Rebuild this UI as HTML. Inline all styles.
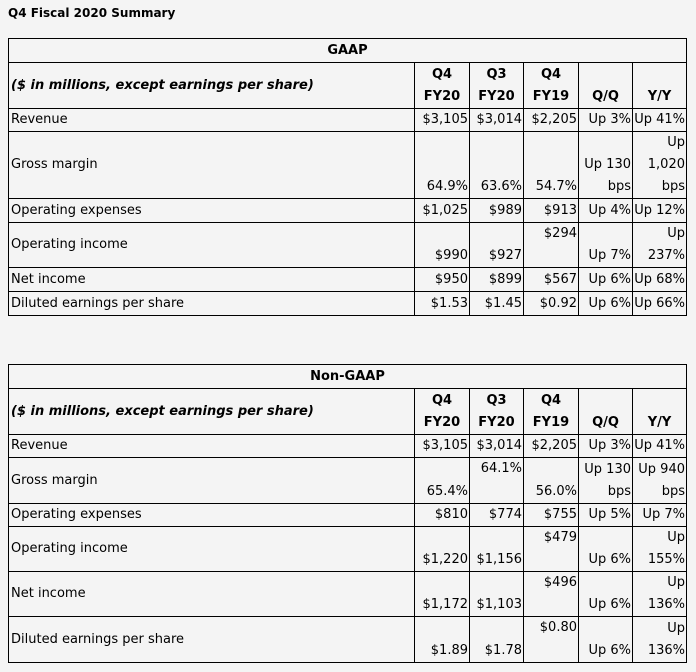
<!DOCTYPE html>
<html><head><style>
body{margin:0;background:#f4f4f4;font-family:"DejaVu Sans","Liberation Sans",sans-serif;color:#000;width:696px;height:672px;overflow:hidden;position:relative}
.title{position:absolute;left:8px;top:6px;font-size:12px;font-weight:bold}
table{position:absolute;left:8px;border-collapse:collapse;table-layout:fixed;font-size:13px;line-height:22px}
td{border:1px solid #000;padding:0 1px;vertical-align:bottom;text-align:right;white-space:nowrap;overflow:hidden}
td.l{text-align:left;vertical-align:middle;padding-left:2px}
td.t{vertical-align:top}
.h td{font-weight:bold;text-align:center}
.sh td{font-weight:bold;text-align:center}
.sh td.l{font-style:italic;text-align:left}
</style></head><body>
<div class="title">Q4 Fiscal 2020 Summary</div>

<table style="top:38px">
<colgroup><col style="width:406px"><col style="width:55px"><col style="width:54px"><col style="width:55px"><col style="width:54px"><col style="width:54px"></colgroup>
<tr class="h" style="height:24px"><td colspan="6">GAAP</td></tr>
<tr class="sh" style="height:46px"><td class="l">($ in millions, except earnings per share)</td><td>Q4<br>FY20</td><td>Q3<br>FY20</td><td>Q4<br>FY19</td><td style="vertical-align:bottom">Q/Q</td><td style="vertical-align:bottom">Y/Y</td></tr>
<tr style="height:23px"><td class="l">Revenue</td><td>$3,105</td><td>$3,014</td><td>$2,205</td><td>Up 3%</td><td>Up 41%</td></tr>
<tr style="height:66px"><td class="l">Gross margin</td><td>64.9%</td><td>63.6%</td><td>54.7%</td><td>Up 130<br>bps</td><td>Up<br>1,020<br>bps</td></tr>
<tr style="height:24px"><td class="l">Operating expenses</td><td>$1,025</td><td>$989</td><td>$913</td><td>Up 4%</td><td>Up 12%</td></tr>
<tr style="height:45px"><td class="l">Operating income</td><td>$990</td><td>$927</td><td class="t">$294</td><td>Up 7%</td><td>Up<br>237%</td></tr>
<tr style="height:24px"><td class="l">Net income</td><td>$950</td><td>$899</td><td>$567</td><td>Up 6%</td><td>Up 68%</td></tr>
<tr style="height:24px"><td class="l">Diluted earnings per share</td><td>$1.53</td><td>$1.45</td><td>$0.92</td><td>Up 6%</td><td>Up 66%</td></tr>
</table>

<table style="top:364px">
<colgroup><col style="width:406px"><col style="width:55px"><col style="width:54px"><col style="width:55px"><col style="width:54px"><col style="width:54px"></colgroup>
<tr class="h" style="height:24px"><td colspan="6">Non-GAAP</td></tr>
<tr class="sh" style="height:46px"><td class="l">($ in millions, except earnings per share)</td><td>Q4<br>FY20</td><td>Q3<br>FY20</td><td>Q4<br>FY19</td><td>Q/Q</td><td>Y/Y</td></tr>
<tr style="height:23px"><td class="l">Revenue</td><td>$3,105</td><td>$3,014</td><td>$2,205</td><td>Up 3%</td><td>Up 41%</td></tr>
<tr style="height:46px"><td class="l">Gross margin</td><td>65.4%</td><td class="t">64.1%</td><td>56.0%</td><td>Up 130<br>bps</td><td>Up 940<br>bps</td></tr>
<tr style="height:23px"><td class="l">Operating expenses</td><td>$810</td><td>$774</td><td>$755</td><td>Up 5%</td><td>Up 7%</td></tr>
<tr style="height:45px"><td class="l">Operating income</td><td>$1,220</td><td>$1,156</td><td class="t">$479</td><td>Up 6%</td><td>Up<br>155%</td></tr>
<tr style="height:45px"><td class="l">Net income</td><td>$1,172</td><td>$1,103</td><td class="t">$496</td><td>Up 6%</td><td>Up<br>136%</td></tr>
<tr style="height:46px"><td class="l">Diluted earnings per share</td><td>$1.89</td><td>$1.78</td><td class="t">$0.80</td><td>Up 6%</td><td>Up<br>136%</td></tr>
</table>
</body></html>
